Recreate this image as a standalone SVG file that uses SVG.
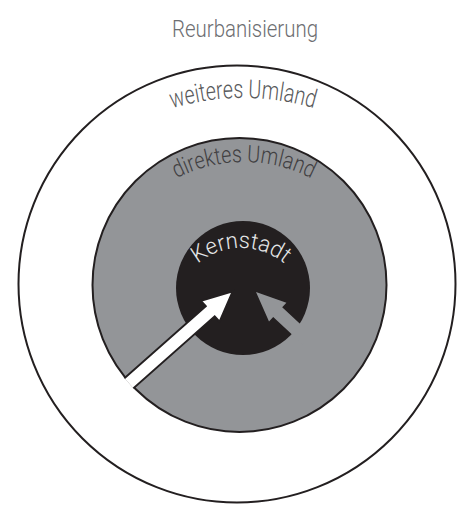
<svg xmlns="http://www.w3.org/2000/svg" width="458" height="506" viewBox="0 0 458 506">
<style>
.lbl{font-family:Roboto,"Liberation Sans",sans-serif;font-weight:300;}
.ring{stroke:#231f20;stroke-width:2;}
</style>
<defs>
<path id="arcOuter" d="M -7 348 A 250 250 0 0 1 493 348"/>
<path id="arcMid" d="M 98 308 A 146 146 0 0 1 390 308"/>
<path id="arcCore" d="M 173 316 A 68 68 0 0 1 309 316"/>
<clipPath id="clipMid"><circle cx="239.5" cy="285" r="148.2"/></clipPath>
</defs>
<rect width="458" height="506" fill="#ffffff"/>
<text class="lbl" x="245" y="37" text-anchor="middle" font-size="24" fill="#6d6e71" textLength="146" lengthAdjust="spacingAndGlyphs">Reurbanisierung</text>
<g id="weiteres-umland">
<circle class="ring" cx="237" cy="284" r="218.5" fill="#ffffff"/>
<text class="lbl" font-size="26" fill="#58595b"><textPath href="#arcOuter" startOffset="50%" text-anchor="middle" textLength="144" lengthAdjust="spacingAndGlyphs">weiteres Umland</textPath></text>
</g>
<g id="direktes-umland">
<circle class="ring" cx="239.5" cy="285" r="147" fill="#939598" stroke-width="2.2"/>
<text class="lbl" font-size="24" fill="#414042"><textPath href="#arcMid" startOffset="50%" text-anchor="middle" textLength="140" lengthAdjust="spacingAndGlyphs">direktes Umland</textPath></text>
</g>
<g id="kernstadt">
<circle cx="243" cy="288" r="67" fill="#231f20"/>
<text class="lbl" font-size="23" fill="#e6e7e8"><textPath href="#arcCore" startOffset="50%" text-anchor="middle" textLength="94" lengthAdjust="spacingAndGlyphs">Kernstadt</textPath></text>
</g>
<g id="connectors">
<polygon points="232.7,291.4 219.51,321.78 214.67,316.31 109.81,409.13 100.93,399.09 205.79,306.27 200.95,300.8" fill="#ffffff" stroke="#231f20" stroke-width="2" stroke-linejoin="miter" clip-path="url(#clipMid)"/>
<polygon points="256,292 286.4,302.75 282.19,307.29 311.51,334.49 302.53,344.17 273.21,316.97 269,321.51" fill="#939598"/>
</g>
</svg>
